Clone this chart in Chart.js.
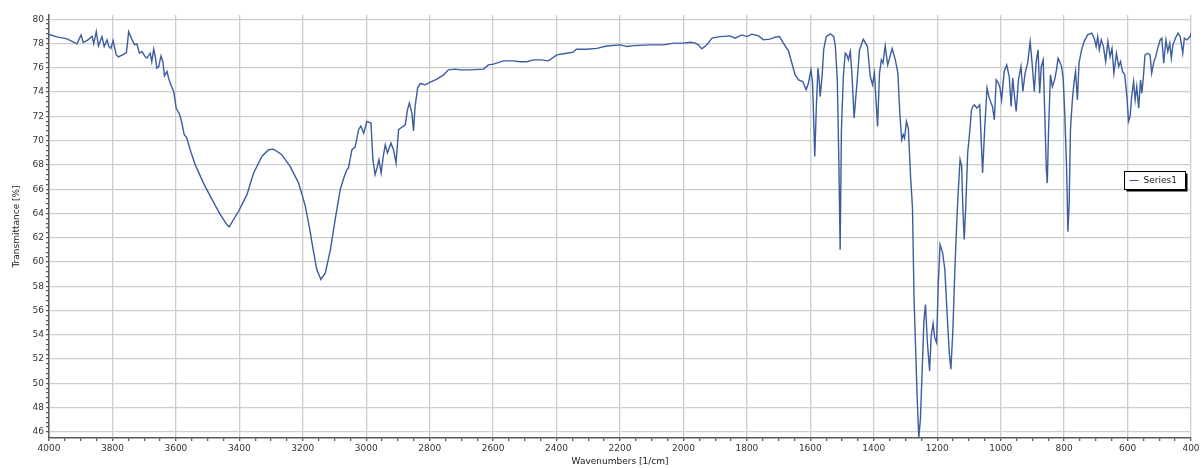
<!DOCTYPE html>
<html>
<head>
<meta charset="utf-8">
<script src="https://cdn.jsdelivr.net/npm/chart.js@4.4.1/dist/chart.umd.min.js"></script>
<style>
  html, body { margin:0; padding:0; background:#fff; }
  #wrap { width:1204px; height:468px; }
</style>
</head>
<body>
<div id="wrap"><canvas id="ir"></canvas></div>
<script>
const SERIES_NAME = 'Series1';
const X_TITLE = 'Wavenumbers [1/cm]';
const Y_TITLE = 'Transmittance [%]';

const xTickLabels = [4000,3800,3600,3400,3200,3000,2800,2600,2400,2200,2000,1800,1600,1400,1200,1000,800,600,400];
const yTickLabels = [46,48,50,52,54,56,58,60,62,64,66,68,70,72,74,76,78,80];

// wavenumber [1/cm]
const wavenumbers = [
  4000,3975,3943,3912,3899,3892,3877,3864,3859,3851,3844,3833,3826,3817,3812,3805,3798,3788,3781,3765,
  3756,3752,3749,3738,3730,3723,3715,3707,3697,3691,3681,3676,3670,3665,3660,3654,3647,3641,3636,3628,
  3623,3616,3607,3599,3588,3581,3574,3566,3555,3539,3513,3486,3460,3440,3432,3402,3376,3355,3329,3308,
  3292,3266,3240,3213,3192,3176,3171,3156,3143,3129,3113,3098,3082,3069,3061,3056,3045,3035,3024,3017,
  3008,2998,2985,2979,2972,2966,2960,2953,2947,2940,2933,2922,2914,2906,2898,2891,2884,2877,2870,2864,
  2856,2851,2846,2838,2830,2814,2798,2777,2756,2741,2719,2704,2672,2630,2615,2599,2567,2536,2515,2494,
  2473,2447,2426,2399,2368,2347,2338,2305,2273,2242,2199,2178,2157,2105,2063,2031,2000,1979,1963,1953,
  1942,1926,1910,1884,1853,1837,1816,1800,1784,1763,1748,1727,1711,1697,1685,1669,1658,1648,1637,1624,
  1613,1606,1598,1593,1586,1581,1576,1572,1569,1563,1558,1550,1537,1526,1521,1515,1510,1506,1502,1496,
  1490,1485,1480,1474,1469,1462,1453,1445,1433,1420,1411,1404,1398,1388,1382,1376,1371,1364,1356,1342,
  1332,1324,1318,1312,1307,1303,1297,1291,1284,1278,1273,1268,1263,1258,1253,1247,1242,1237,1231,1224,
  1219,1213,1208,1202,1197,1191,1183,1176,1169,1162,1157,1151,1144,1138,1134,1128,1123,1119,1115,1110,
  1104,1097,1092,1088,1083,1075,1066,1057,1050,1043,1036,1026,1020,1014,1007,1002,997,989,981,973,
  967,962,957,951,944,936,930,923,915,907,900,894,888,882,877,872,866,861,856,853,
  849,843,837,830,824,819,814,808,803,798,792,788,784,780,774,769,764,758,753,745,
  737,726,713,705,699,694,689,683,676,669,662,655,649,643,635,628,622,616,609,602,
  597,592,587,581,576,571,565,559,555,550,545,537,529,524,517,511,505,497,492,486,
  479,473,467,462,457,449,441,434,426,421,413,403,400
];

// transmittance [%]
const transmittance = [
  78.75,78.55,78.38,77.97,78.70,78.08,78.30,78.60,78.00,78.98,77.80,78.57,77.75,78.30,77.80,77.60,78.24,77.06,76.90,77.10,
  77.25,78.16,78.98,78.30,77.90,77.97,77.20,77.34,76.92,76.80,77.20,76.50,77.53,76.92,75.97,76.10,76.98,76.50,75.34,75.70,
  75.15,74.60,74.05,72.68,72.13,71.45,70.50,70.25,69.25,68.00,66.50,65.14,63.90,63.10,62.90,64.20,65.55,67.33,68.70,69.25,
  69.30,68.84,67.88,66.50,64.60,62.40,61.58,59.40,58.56,59.10,61.00,63.50,65.96,67.06,67.60,67.75,69.25,69.47,70.90,71.20,
  70.60,71.58,71.45,68.43,67.20,67.75,68.43,67.33,68.57,69.66,68.98,69.80,69.25,68.16,70.90,71.04,71.17,71.30,72.54,73.10,
  72.27,70.80,72.80,74.33,74.70,74.60,74.82,75.07,75.42,75.83,75.89,75.83,75.83,75.89,76.24,76.30,76.57,76.57,76.50,76.50,
  76.65,76.65,76.57,77.06,77.20,77.29,77.53,77.53,77.60,77.80,77.89,77.75,77.83,77.89,77.89,78.03,78.03,78.11,78.03,77.89,
  77.56,77.89,78.44,78.57,78.63,78.44,78.71,78.57,78.77,78.63,78.30,78.36,78.52,78.57,78.03,77.40,76.38,75.42,75.00,74.87,
  74.19,74.74,75.83,74.74,68.70,72.81,75.97,75.00,73.63,75.28,77.47,78.57,78.80,78.57,77.75,75.00,68.16,61.00,70.90,75.28,
  77.20,77.06,76.65,77.34,75.56,71.86,74.74,77.47,78.36,77.75,75.28,74.60,75.56,71.17,75.56,76.65,76.38,77.80,76.24,77.60,
  76.65,75.56,72.27,70.07,70.50,70.20,71.58,71.00,67.00,64.50,56.92,52.80,48.70,45.54,47.05,51.40,55.13,56.50,53.35,51.02,
  53.90,54.94,53.77,53.35,58.00,61.44,60.76,59.38,55.82,52.53,51.16,54.18,59.65,63.49,65.68,68.43,67.88,64.30,61.85,64.60,
  68.98,70.90,72.54,72.81,72.95,72.68,72.95,67.33,71.17,74.33,73.50,72.81,71.72,75.00,74.74,74.33,73.36,75.70,76.24,75.28,
  72.81,75.15,73.77,72.40,75.00,76.10,74.05,75.56,76.38,78.16,76.10,74.05,76.51,77.47,73.91,76.10,76.65,72.27,67.60,66.50,
  70.90,75.42,74.46,75.00,75.83,76.79,76.51,76.10,75.15,72.27,67.60,62.50,64.87,70.90,73.36,74.74,75.70,73.36,76.38,77.47,
  78.16,78.71,78.85,78.44,77.75,78.57,77.47,78.30,77.75,76.51,78.16,76.92,77.60,75.56,77.20,76.10,76.51,75.70,75.42,73.63,
  71.58,71.99,73.63,74.87,73.36,74.46,72.68,75.00,73.91,75.28,77.06,77.20,77.06,75.56,76.51,76.92,77.60,78.30,78.44,76.38,
  78.30,77.34,78.03,76.79,77.89,78.44,78.85,78.57,77.20,78.44,78.30,78.57,78.85
];

const FONT = { family: '"DejaVu Sans", Verdana, sans-serif', size: 9 };
const GRID = '#cdcdcd';
const AXIS = '#5a5a5a';
const LINE = '#3b5c9e';

const isMajorX = v => xTickLabels.includes(Math.round(v));
const isMajorY = v => yTickLabels.some(t => Math.abs(t - v) < 1e-6);

// boxed legend inside the plot with a drop shadow
const boxLegend = {
  id: 'boxLegend',
  afterDraw(chart) {
    const { ctx, chartArea } = chart;
    const label = chart.data.datasets[0].label;
    ctx.save();
    ctx.font = `${FONT.size}px ${FONT.family}`;
    const tw = ctx.measureText(label).width;
    const w = Math.round(tw + 28), h = 18;
    const x = Math.round(chartArea.right - 6 - w) + 0.5;
    const y = Math.round(chartArea.top + (chartArea.bottom - chartArea.top) * 0.368) + 0.5;
    ctx.fillStyle = '#000';
    ctx.fillRect(x + 2, y + 2, w, h);
    ctx.fillStyle = '#fff';
    ctx.fillRect(x, y, w, h);
    ctx.strokeStyle = '#000';
    ctx.lineWidth = 1;
    ctx.strokeRect(x, y, w, h);
    ctx.strokeStyle = LINE;
    ctx.beginPath();
    ctx.moveTo(x + 5, y + h / 2);
    ctx.lineTo(x + 14, y + h / 2);
    ctx.stroke();
    ctx.fillStyle = '#222';
    ctx.textBaseline = 'middle';
    ctx.fillText(label, x + 19, y + h / 2 + 0.5);
    ctx.restore();
  }
};

const points = wavenumbers.map((w, i) => ({ x: w, y: transmittance[i] }));

new Chart(document.getElementById('ir').getContext('2d'), {
  type: 'line',
  data: {
    datasets: [{
      label: SERIES_NAME,
      data: points,
      borderColor: LINE,
      borderWidth: 1.4,
      pointRadius: 0,
      tension: 0,
      fill: false
    }]
  },
  options: {
    responsive: true,
    maintainAspectRatio: false,
    animation: false,
    layout: { padding: { top: 15, right: 13, left: 0, bottom: 0 } },
    plugins: { legend: { display: false }, tooltip: { enabled: false } },
    scales: {
      x: {
        type: 'linear',
        reverse: true,
        min: 400,
        max: 4000,
        afterBuildTicks: s => {
          const t = [];
          for (let v = 4000; v >= 400; v -= 50) t.push({ value: v });
          s.ticks = t;
        },
        afterFit: s => { s.height = 30; },
        ticks: {
          autoSkip: false, maxRotation: 0, padding: 2,
          color: '#333', font: FONT,
          callback: v => isMajorX(v) ? String(v) : ''
        },
        grid: {
          color: c => isMajorX(c.tick.value) ? GRID : 'rgba(0,0,0,0)',
          lineWidth: 1.3,
          tickColor: AXIS,
          tickLength: 3
        },
        border: { display: true, color: AXIS, width: 1.5 },
        title: { display: true, text: X_TITLE, color: '#222', font: FONT, padding: { top: 0, bottom: 1 } }
      },
      y: {
        min: 45.5,
        max: 80.35,
        afterBuildTicks: s => {
          const t = [];
          for (let k = 0; k <= 85; k++) t.push({ value: Math.round((46 + k * 0.4) * 10) / 10 });
          s.ticks = t;
        },
        afterFit: s => { s.width = 49; },
        ticks: {
          autoSkip: false, padding: 2,
          color: '#333', font: FONT,
          callback: v => isMajorY(v) ? String(v) : ''
        },
        grid: {
          color: c => isMajorY(c.tick.value) ? GRID : 'rgba(0,0,0,0)',
          lineWidth: 1.3,
          tickColor: AXIS,
          tickLength: 3
        },
        border: { display: true, color: AXIS, width: 1.5 },
        title: { display: true, text: Y_TITLE, color: '#222', font: FONT, padding: { top: 11, bottom: 0 } }
      }
    }
  },
  plugins: [boxLegend]
});
</script>
</body>
</html>
